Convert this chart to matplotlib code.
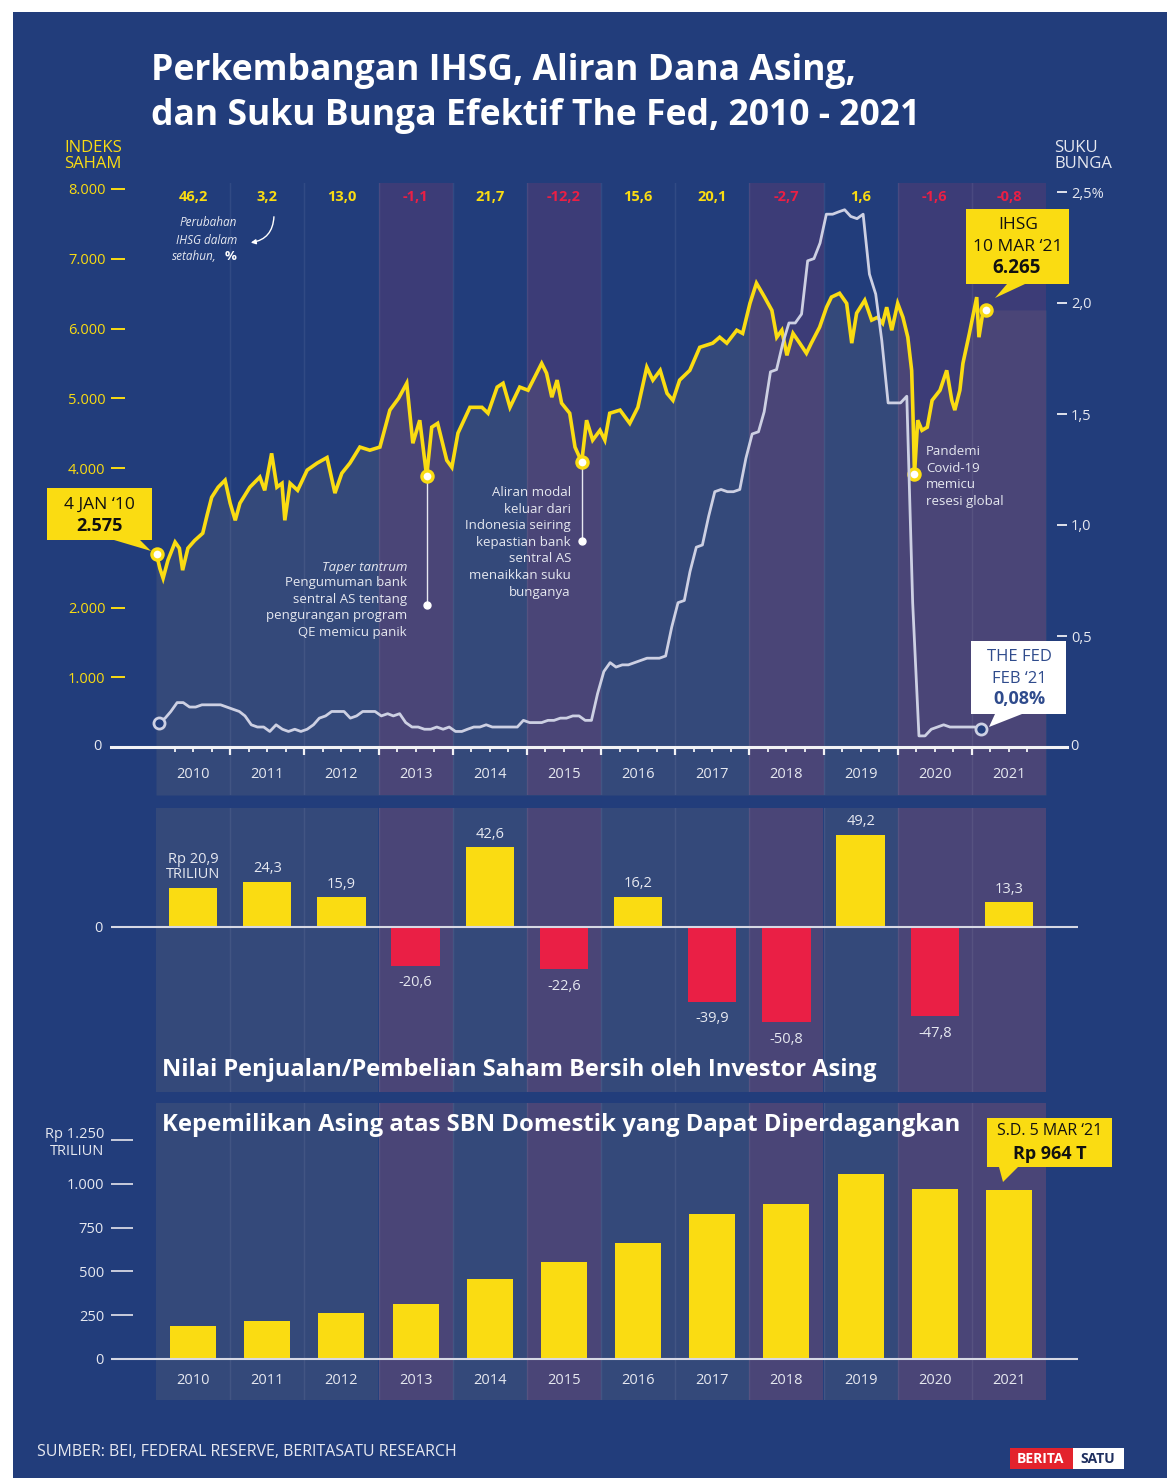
import numpy as np
import pandas as pd
import matplotlib
matplotlib.use("Agg")
import matplotlib.pyplot as plt
from matplotlib.patches import Rectangle, Polygon, FancyArrowPatch

plt.rcParams["font.family"] = ["Open Sans", "DejaVu Sans"]

# ---------------- DATA ----------------

YEARS = list(range(2010, 2022))
YEAR_LABELS = [str(y) for y in YEARS]

# IHSG change in a year, %
IHSG_CHANGE = [46.2, 3.2, 13.0, -1.1, 21.7, -12.2, 15.6, 20.1, -2.7, 1.6, -1.6, -0.8]
IHSG_CHANGE_LABELS = ["46,2", "3,2", "13,0", "-1,1", "21,7", "-12,2",
                      "15,6", "20,1", "-2,7", "1,6", "-1,6", "-0,8"]

# net foreign buy/sell, Rp trillion
NET_FOREIGN = [20.9, 24.3, 15.9, -20.6, 42.6, -22.6, 16.2, -39.9, -50.8, 49.2, -47.8, 13.3]
NET_FOREIGN_LABELS = ["Rp 20,9\nTRILIUN", "24,3", "15,9", "-20,6", "42,6", "-22,6",
                      "16,2", "-39,9", "-50,8", "49,2", "-47,8", "13,3"]

# foreign ownership of tradable domestic SBN, Rp trillion
SBN_FOREIGN = [188, 217, 262, 314, 456, 553, 662, 827, 884, 1055, 970, 964]

IHSG_DATES = [
    "2010-01-04", "2010-01-20", "2010-02-05", "2010-03-01", "2010-04-05", "2010-04-26",
    "2010-05-12", "2010-06-07", "2010-07-10", "2010-08-19", "2010-09-10", "2010-10-02",
    "2010-11-03", "2010-12-07", "2011-01-01", "2011-01-26", "2011-02-18", "2011-04-08",
    "2011-05-27", "2011-06-20", "2011-07-24", "2011-08-19", "2011-09-13", "2011-09-27",
    "2011-10-23", "2011-11-29", "2012-01-15", "2012-03-04", "2012-04-22", "2012-05-31",
    "2012-07-04", "2012-08-13", "2012-10-01", "2012-11-19", "2013-01-08", "2013-02-26",
    "2013-04-10", "2013-05-20", "2013-06-19", "2013-07-23", "2013-08-26", "2013-09-20",
    "2013-10-19", "2013-12-03", "2013-12-28", "2014-01-27", "2014-03-27", "2014-05-25",
    "2014-06-24", "2014-08-08", "2014-09-06", "2014-10-10", "2014-11-27", "2015-01-07",
    "2015-03-15", "2015-04-08", "2015-05-04", "2015-05-30", "2015-06-21", "2015-07-31",
    "2015-08-26", "2015-09-09", "2015-09-28", "2015-10-22", "2015-11-21", "2015-12-27",
    "2016-01-20", "2016-02-13", "2016-04-04", "2016-05-22", "2016-07-01", "2016-08-14",
    "2016-09-13", "2016-10-19", "2016-11-22", "2016-12-21", "2017-01-23", "2017-03-14",
    "2017-05-02", "2017-07-05", "2017-08-08", "2017-09-12", "2017-10-31", "2017-11-29",
    "2018-01-04", "2018-02-05", "2018-03-17", "2018-04-22", "2018-05-16", "2018-06-10",
    "2018-07-05", "2018-08-04", "2018-09-06", "2018-10-09", "2018-11-02", "2018-12-13",
    "2019-01-16", "2019-02-09", "2019-03-21", "2019-04-25", "2019-05-20", "2019-06-13",
    "2019-07-23", "2019-08-26", "2019-09-24", "2019-10-19", "2019-11-08", "2019-12-03",
    "2020-01-01", "2020-01-27", "2020-02-20", "2020-03-10", "2020-03-16", "2020-03-24",
    "2020-04-09", "2020-04-30", "2020-05-26", "2020-06-19", "2020-07-28", "2020-08-30",
    "2020-09-24", "2020-10-09", "2020-11-03", "2020-11-18", "2020-12-20", "2021-01-25",
    "2021-02-05", "2021-02-26", "2021-03-10",
]
IHSG_VALUES = [
    2760, 2560, 2420, 2680, 2937, 2850,
    2535, 2850, 2960, 3065, 3330, 3580,
    3725, 3825, 3495, 3250, 3495, 3725,
    3870, 3680, 4210, 3725, 3780, 3250,
    3780, 3680, 3970, 4070, 4150, 3640,
    3925, 4070, 4300, 4255, 4300, 4830,
    5000, 5215, 4355, 4685, 3880, 4585,
    4640, 4110, 4010, 4500, 4870, 4870,
    4785, 5160, 5215, 4870, 5160, 5115,
    5500, 5360, 5015, 5260, 4930, 4785,
    4300, 4210, 4085, 4685, 4400, 4540,
    4400, 4785, 4830, 4640, 4870, 5445,
    5260, 5400, 5070, 4970, 5260, 5400,
    5730, 5790, 5875, 5790, 5975, 5930,
    6360, 6650, 6450, 6260, 5875, 5975,
    5615, 5930, 5790, 5645, 5790, 6020,
    6305, 6450, 6505, 6360, 5790, 6220,
    6405, 6120, 6160, 6075, 6305, 5975,
    6360, 6160, 5875, 5400, 4830, 3910,
    4685, 4540, 4585, 4970, 5115, 5400,
    4970, 4830, 5115, 5500, 5930, 6450,
    5875, 6260, 6265,
]

# effective Fed funds rate, monthly from Jan 2010 to Feb 2021, %
FED_START = "2010-01-01"
FED_RATE = [
    0.11, 0.13, 0.16, 0.20, 0.20, 0.18, 0.18, 0.19, 0.19, 0.19, 0.19, 0.18,
    0.17, 0.16, 0.14, 0.10, 0.09, 0.09, 0.07, 0.10, 0.08, 0.07, 0.08, 0.07,
    0.08, 0.10, 0.13, 0.14, 0.16, 0.16, 0.16, 0.13, 0.14, 0.16, 0.16, 0.16,
    0.14, 0.15, 0.14, 0.15, 0.11, 0.09, 0.09, 0.08, 0.08, 0.09, 0.08, 0.09,
    0.07, 0.07, 0.08, 0.09, 0.09, 0.10, 0.09, 0.09, 0.09, 0.09, 0.09, 0.12,
    0.11, 0.11, 0.11, 0.12, 0.12, 0.13, 0.13, 0.14, 0.14, 0.12, 0.12, 0.24,
    0.34, 0.38, 0.36, 0.37, 0.37, 0.38, 0.39, 0.40, 0.40, 0.40, 0.41, 0.54,
    0.65, 0.66, 0.79, 0.90, 0.91, 1.04, 1.15, 1.16, 1.15, 1.15, 1.16, 1.30,
    1.41, 1.42, 1.51, 1.69, 1.70, 1.82, 1.91, 1.91, 1.95, 2.19, 2.20, 2.27,
    2.40, 2.40, 2.41, 2.42, 2.39, 2.38, 2.40, 2.13, 2.04, 1.83, 1.55, 1.55,
    1.55, 1.58, 0.65, 0.05, 0.05, 0.08, 0.09, 0.10, 0.09, 0.09, 0.09, 0.09,
    0.09, 0.08,
]

IHSG_TICKS = [1000, 2000, 4000, 5000, 6000, 7000, 8000]
IHSG_TICK_LABELS = ["1.000", "2.000", "4.000", "5.000", "6.000", "7.000", "8.000"]
RATE_TICKS = [0.5, 1.0, 1.5, 2.0, 2.5]
RATE_TICK_LABELS = ["0,5", "1,0", "1,5", "2,0", "2,5%"]
SBN_TICKS = [0, 250, 500, 750, 1000, 1250]
SBN_TICK_LABELS = ["0", "250", "500", "750", "1.000", "Rp 1.250\nTRILIUN"]

# ---------------- STYLE ----------------

W, H = 1167, 1478
BG = "#223D7B"
YELLOW = "#FADC12"
RED = "#EA1F45"
LIGHT = "#E6E8F0"
FED_COL = "#CDD0E3"
LIGHT_FILL = (180 / 255, 160 / 255, 120 / 255)
LIGHT_ALPHA = 0.13
PURPLE = (150 / 255, 60 / 255, 110 / 255)
PURPLE_ALPHA = 0.23

PX_YEAR = (1046 - 156) / 12.0


def px_rect(x0, y0, x1, y1):
    return [x0 / W, 1 - y1 / H, (x1 - x0) / W, (y1 - y0) / H]


def dec_year(d):
    d = pd.Timestamp(d)
    start = pd.Timestamp(year=d.year, month=1, day=1)
    end = pd.Timestamp(year=d.year + 1, month=1, day=1)
    return d.year + (d - start) / (end - start)


ihsg_t = np.array([dec_year(d) for d in IHSG_DATES])
ihsg_v = np.array(IHSG_VALUES, dtype=float)
fed_months = pd.date_range(FED_START, periods=len(FED_RATE), freq="MS") + pd.Timedelta(days=14)
fed_t = np.array([dec_year(d) for d in fed_months])
fed_v = np.array(FED_RATE)

fig = plt.figure(figsize=(W / 100, H / 100), dpi=100)
fig.patch.set_facecolor("white")

bg = fig.add_axes([0, 0, 1, 1], zorder=-10)
bg.set_xlim(0, W)
bg.set_ylim(H, 0)
bg.axis("off")
bg.add_patch(Rectangle((13, 12), W - 13, H - 12, color=BG, lw=0))


def year_bands(ax, all_years):
    for y, ch in zip(YEARS, IHSG_CHANGE):
        if all_years:
            ax.axvspan(y, y + 1, color=LIGHT_FILL, alpha=LIGHT_ALPHA, lw=0, zorder=0.5)
        if ch < 0:
            ax.axvspan(y, y + 1, color=PURPLE, alpha=PURPLE_ALPHA, lw=0, zorder=1.5)
    for y in YEARS[1:]:
        ax.axvline(y, color="white", alpha=0.07, lw=1, zorder=1.6)


# ---------------- TOP: IHSG & FED ----------------

K_TOP = (747 - 189) / 8000.0
ax = fig.add_axes(px_rect(111, 183, 1067, 795))
ax.patch.set_alpha(0)
ax.set_xlim(2010 - 45 / PX_YEAR, 2022 + 21 / PX_YEAR)
ax.set_ylim(-(795 - 747) / K_TOP, (747 - 183) / K_TOP)

year_bands(ax, all_years=False)

fill_t = np.append(ihsg_t, 2022.0)
fill_v = np.append(ihsg_v, ihsg_v[-1])
fill_t = np.insert(fill_t, 0, 2010.0)
fill_v = np.insert(fill_v, 0, ihsg_v[0])
ax.fill_between(fill_t, fill_v, ax.get_ylim()[0], color=LIGHT_FILL, alpha=LIGHT_ALPHA,
                lw=0, zorder=1)
ax.plot(ihsg_t, ihsg_v, color=YELLOW, lw=2.6, zorder=3, solid_joinstyle="miter")

# highlighted points
for d in ["2010-01-04", "2013-08-26", "2015-09-28", "2020-03-24", "2021-03-10"]:
    i = IHSG_DATES.index(d)
    ax.plot(ihsg_t[i], ihsg_v[i], "o", ms=8, mfc="white", mec=YELLOW, mew=2.4, zorder=6)

# leader lines for notes
for d, end_v in [("2013-08-26", 2030), ("2015-09-28", 2950)]:
    i = IHSG_DATES.index(d)
    ax.plot([ihsg_t[i], ihsg_t[i]], [ihsg_v[i], end_v], color=LIGHT, lw=1, zorder=5)
    ax.plot(ihsg_t[i], end_v, "o", ms=5, color="white", zorder=5)

ax.spines[["left", "right", "top"]].set_visible(False)
ax.spines["bottom"].set_position(("data", 0))
ax.spines["bottom"].set_color("#F2F2F5")
ax.spines["bottom"].set_linewidth(2.2)
ax.spines["bottom"].set_zorder(4)
ax.set_xticks(YEARS[1:])
ax.set_xticks([y + q for y in YEARS for q in (0.25, 0.5, 0.75)], minor=True)
ax.tick_params(axis="x", which="major", direction="out", length=6, width=1.6,
               color="#F2F2F5", labelbottom=False)
ax.tick_params(axis="x", which="minor", direction="out", length=3.5, width=1.3,
               color="#F2F2F5")
ax.set_yticks(IHSG_TICKS)
ax.set_yticklabels(IHSG_TICK_LABELS)
ax.tick_params(axis="y", direction="in", length=10, width=1.4, color=YELLOW,
               labelcolor=YELLOW, labelsize=10.5, pad=4)

for y, lab in zip(YEARS, YEAR_LABELS):
    ax.text(y + 0.5, -(775 - 747) / K_TOP, lab, ha="center", va="center",
            color=LIGHT, fontsize=10.5)

for y, ch, lab in zip(YEARS, IHSG_CHANGE, IHSG_CHANGE_LABELS):
    ax.text(y + 0.5, (747 - 197) / K_TOP, lab, ha="center", va="center",
            color=RED if ch < 0 else YELLOW, fontsize=10.5, fontweight="bold", zorder=5)

K_RATE = 222.0
ax2 = ax.twinx()
ax2.set_ylim(-(795 - 747) / K_RATE, (747 - 183) / K_RATE)
ax2.plot(fed_t, fed_v, color=FED_COL, lw=2, zorder=3)
for i in [0, -1]:
    ax2.plot(fed_t[i], fed_v[i], "o", ms=8, mfc=BG, mec=FED_COL, mew=2, zorder=6)
for s in ax2.spines.values():
    s.set_visible(False)
ax2.set_yticks(RATE_TICKS)
ax2.set_yticklabels(RATE_TICK_LABELS)
ax2.tick_params(axis="y", direction="in", length=7.5, width=1.4, color="#E0E2EC",
                labelcolor=LIGHT, labelsize=10.5, pad=3)

# ---------------- MIDDLE: NET FOREIGN ----------------

K_MID = 1.87
axm = fig.add_axes(px_rect(111, 808, 1078, 1092))
axm.patch.set_alpha(0)
axm.set_xlim(2010 - 45 / PX_YEAR, 2022 + 32 / PX_YEAR)
axm.set_ylim(-(1092 - 927) / K_MID, (927 - 808) / K_MID)
year_bands(axm, all_years=True)
mid_x = [y + 0.5 for y in YEARS]
bars = axm.bar(mid_x, NET_FOREIGN, width=0.65,
               color=[YELLOW if v > 0 else RED for v in NET_FOREIGN], lw=0, zorder=3)
axm.axhline(0, color="#D6D8E4", lw=1.5, zorder=4)
for x, v, lab in zip(mid_x, NET_FOREIGN, NET_FOREIGN_LABELS):
    if v > 0:
        axm.annotate(lab, (x, v), xytext=(0, 4), textcoords="offset points",
                     ha="center", va="bottom", color=LIGHT, fontsize=10.5,
                     linespacing=1.0)
    else:
        axm.annotate(lab, (x, v), xytext=(0, -7), textcoords="offset points",
                     ha="center", va="top", color=LIGHT, fontsize=10.5)
for s in axm.spines.values():
    s.set_visible(False)
axm.set_xticks([])
axm.set_yticks([0])
axm.set_yticklabels(["0"])
axm.tick_params(axis="y", length=0, labelcolor=LIGHT, labelsize=10.5, pad=6)

# ---------------- BOTTOM: SBN ----------------

K_BOT = 0.1753
axb = fig.add_axes(px_rect(111, 1103, 1078, 1400))
axb.patch.set_alpha(0)
axb.set_xlim(2010 - 45 / PX_YEAR, 2022 + 32 / PX_YEAR)
axb.set_ylim(-(1400 - 1359) / K_BOT, (1359 - 1103) / K_BOT)
year_bands(axb, all_years=True)
axb.bar(mid_x, SBN_FOREIGN, width=0.62, color=YELLOW, lw=0, zorder=3)
axb.axhline(0, color="#D6D8E4", lw=1.5, zorder=4)
for x, lab in zip(mid_x, YEAR_LABELS):
    axb.text(x, -(1381 - 1359) / K_BOT, lab, ha="center", va="center",
             color=LIGHT, fontsize=10.5)
for s in axb.spines.values():
    s.set_visible(False)
axb.set_xticks([])
axb.set_yticks(SBN_TICKS)
axb.set_yticklabels(SBN_TICK_LABELS)
axb.tick_params(axis="y", direction="in", length=16, width=1.3, color="#D6D8E4",
                labelcolor=LIGHT, labelsize=10.5, pad=5)

# ---------------- OVERLAY TEXT ----------------

ov = fig.add_axes([0, 0, 1, 1], zorder=10)
ov.patch.set_alpha(0)
ov.set_xlim(0, W)
ov.set_ylim(H, 0)
ov.axis("off")

ov.text(151, 71, "Perkembangan IHSG, Aliran Dana Asing,", color="white",
        fontsize=25.6, fontweight="bold", va="center")
ov.text(151, 116, "dan Suku Bunga Efektif The Fed, 2010 - 2021", color="white",
        fontsize=25.6, fontweight="bold", va="center")

ov.text(93, 156, "INDEKS\nSAHAM", color=YELLOW, fontsize=12, ha="center",
        va="center", linespacing=1.05)
ov.text(1054, 156, "SUKU\nBUNGA", color=LIGHT, fontsize=12, ha="left",
        va="center", linespacing=1.05)
ov.text(97, 747, "0", color=LIGHT, fontsize=10.5, ha="center", va="center")
ov.text(1074, 747, "0", color=LIGHT, fontsize=10.5, ha="center", va="center")

# year change note
ov.text(237, 223, "Perubahan", color=LIGHT, fontsize=8.5, style="italic", ha="right", va="center")
ov.text(237, 240, "IHSG dalam", color=LIGHT, fontsize=8.5, style="italic", ha="right", va="center")
ov.text(217, 257, "setahun,", color=LIGHT, fontsize=8.5, style="italic", ha="right", va="center")
ov.text(225, 257, "%", color="white", fontsize=9.5, fontweight="bold", ha="left", va="center")
ov.add_patch(FancyArrowPatch((274, 214), (248, 243), connectionstyle="arc3,rad=-0.45",
                             arrowstyle="-|>", mutation_scale=7, color="white", lw=1))

# notes
ov.text(407, 567, "Taper tantrum", color=LIGHT, fontsize=9.5, style="italic",
        ha="right", va="center")
ov.text(407, 576, "Pengumuman bank\nsentral AS tentang\npengurangan program\nQE memicu panik",
        color=LIGHT, fontsize=9.5, ha="right", va="top", linespacing=1.36)
ov.text(571, 486, "Aliran modal\nkeluar dari\nIndonesia seiring\nkepastian bank\n"
        "sentral AS\nmenaikkan suku\nbunganya",
        color=LIGHT, fontsize=9.5, ha="right", va="top", linespacing=1.36)
ov.text(926, 445, "Pandemi\nCovid-19\nmemicu\nresesi global",
        color=LIGHT, fontsize=9.5, ha="left", va="top", linespacing=1.36)

# callouts
ov.add_patch(Polygon([(47, 488), (152, 488), (152, 540), (140, 540), (151, 551),
                      (114, 540), (47, 540)], closed=True, color=YELLOW, lw=0))
ov.text(99, 505, "4 JAN \u201810", color="#111111", fontsize=12.5, ha="center", va="center")
ov.text(99, 526, "2.575", color="#111111", fontsize=13, fontweight="bold",
        ha="center", va="center")

ov.add_patch(Polygon([(966, 209), (1069, 209), (1069, 284), (1025, 284), (995, 298),
                      (1007, 284), (966, 284)], closed=True, color=YELLOW, lw=0))
ov.text(1018, 225, "IHSG", color="#111111", fontsize=12.5, ha="center", va="center")
ov.text(1018, 247, "10 MAR \u201821", color="#111111", fontsize=12.5, ha="center", va="center")
ov.text(1017, 268, "6.265", color="#111111", fontsize=13.5, fontweight="bold",
        ha="center", va="center")

ov.add_patch(Polygon([(971, 641), (1066, 641), (1066, 714), (1022, 714), (989, 727),
                      (995, 714), (971, 714)], closed=True, color="white", lw=0))
ov.text(1019, 657, "THE FED", color="#2F4B8C", fontsize=12, ha="center", va="center")
ov.text(1019, 679, "FEB \u201821", color="#2F4B8C", fontsize=12, ha="center", va="center")
ov.text(1019, 699, "0,08%", color="#2F4B8C", fontsize=13, fontweight="bold",
        ha="center", va="center")

ov.add_patch(Polygon([(987, 1118), (1112, 1118), (1112, 1167), (1018, 1167), (1003, 1182),
                      (999, 1167), (987, 1167)], closed=True, color=YELLOW, lw=0))
ov.text(1050, 1131, "S.D. 5 MAR \u201821", color="#111111", fontsize=11.5, ha="center", va="center")
ov.text(1050, 1154, "Rp 964 T", color="#111111", fontsize=13, fontweight="bold",
        ha="center", va="center")

# panel titles
ov.text(162, 1070, "Nilai Penjualan/Pembelian Saham Bersih oleh Investor Asing",
        color="white", fontsize=17, fontweight="bold", va="center")
ov.text(162, 1125, "Kepemilikan Asing atas SBN Domestik yang Dapat Diperdagangkan",
        color="white", fontsize=17.2, fontweight="bold", va="center")

# footer
ov.text(37, 1452, "SUMBER: BEI, FEDERAL RESERVE, BERITASATU RESEARCH", color=LIGHT,
        fontsize=11.5, va="center")
ov.add_patch(Rectangle((1010, 1448), 63, 21, color="#E3232C", lw=0))
ov.add_patch(Rectangle((1073, 1448), 51, 21, color="white", lw=0))
ov.text(1041, 1459, "BERITA", color="white", fontsize=10, fontweight="bold",
        ha="center", va="center")
ov.text(1098, 1459, "SATU", color="#1F2F5F", fontsize=10, fontweight="bold",
        ha="center", va="center")

fig.savefig("out.png", dpi=100, facecolor=fig.get_facecolor())
